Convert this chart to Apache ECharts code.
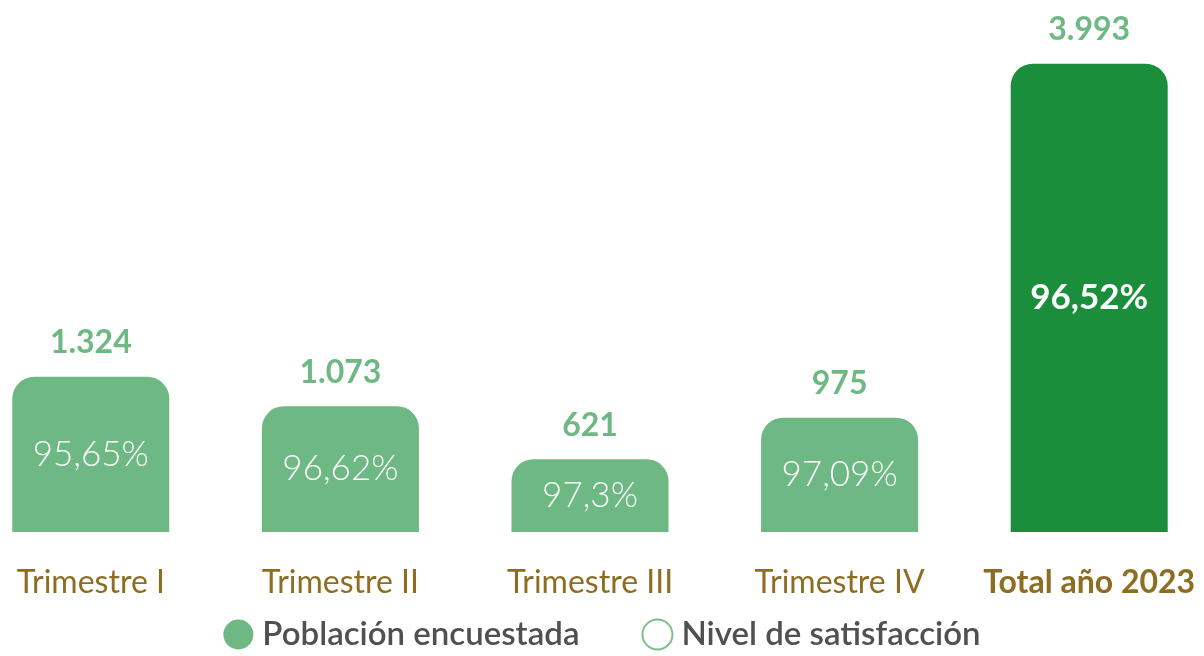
<!DOCTYPE html>
<html>
<head>
<meta charset="utf-8">
<script src="https://cdn.jsdelivr.net/npm/echarts@6/dist/echarts.min.js"></script>
<style>
  html, body { margin: 0; padding: 0; background: #fff; }
  #main { width: 1204px; height: 656px; }
</style>
</head>
<body>
<div id="main"></div>
<script>
// datos
var categorias = ['Trimestre I', 'Trimestre II', 'Trimestre III', 'Trimestre IV', 'Total año 2023'];
var poblacion = [1324, 1073, 621, 975, 3993];
var satisfaccion = ['95,65%', '96,62%', '97,3%', '97,09%', '96,52%'];

var verdeClaro = '#6db883';
var verdeOscuro = '#1a8e3b';
var dorado = '#8d6d22';
var fuente = 'Lato, "Noto Sans", sans-serif';

// separador de miles con punto
function miles(v) {
    return String(v).replace(/\B(?=(\d{3})+(?!\d))/g, '.');
}

var ultimo = categorias.length - 1;

var barras = poblacion.map(function (v, i) {
    var esTotal = i === ultimo;
    return {
        value: v,
        itemStyle: { color: esTotal ? verdeOscuro : verdeClaro },
        label: {
            show: true,
            position: 'inside',
            formatter: satisfaccion[i],
            color: '#fff',
            fontFamily: fuente,
            fontSize: 35,
            fontWeight: esTotal ? 'bold' : 300
        }
    };
});

var myChart = echarts.init(document.getElementById('main'));

var option = {
    backgroundColor: '#fff',
    animation: false,
    legend: {
        bottom: 0,
        left: 'center',
        itemWidth: 30,
        itemHeight: 30,
        itemGap: 62,
        icon: 'circle',
        textStyle: {
            color: '#505050',
            fontFamily: fuente,
            fontSize: 33,
            fontWeight: 600,
            padding: [0, 0, 0, 4]
        },
        data: [
            { name: 'Población encuestada', itemStyle: { color: verdeClaro } },
            { name: 'Nivel de satisfacción', itemStyle: { color: '#fff', borderColor: '#5aae72', borderWidth: 2 } }
        ]
    },
    grid: {
        left: -34,
        width: 1248,
        top: 63,
        bottom: 124,
        outerBoundsMode: 'none',
        containLabel: false
    },
    xAxis: {
        type: 'category',
        data: categorias,
        axisLine: { show: false },
        axisTick: { show: false },
        axisLabel: {
            interval: 0,
            hideOverlap: false,
            margin: 35,
            color: dorado,
            fontFamily: fuente,
            fontSize: 32,
            formatter: function (v) {
                return v === categorias[ultimo] ? '{b|' + v + '}' : v;
            },
            rich: {
                b: { color: dorado, fontFamily: fuente, fontSize: 32, fontWeight: 'bold' }
            }
        }
    },
    yAxis: {
        type: 'value',
        min: 0,
        max: 4000,
        show: false,
        splitLine: { show: false }
    },
    series: [
        {
            name: 'Población encuestada',
            type: 'bar',
            barWidth: 157,
            itemStyle: { color: verdeClaro, borderRadius: [22, 22, 0, 0] },
            data: barras
        },
        {
            // etiquetas de valor sobre las barras
            name: 'valores',
            type: 'bar',
            barWidth: 157,
            barGap: '-100%',
            silent: true,
            itemStyle: { color: 'rgba(0,0,0,0)' },
            label: {
                show: true,
                position: 'top',
                distance: 18,
                color: verdeClaro,
                fontFamily: fuente,
                fontSize: 32,
                fontWeight: 'bold',
                formatter: function (p) { return miles(p.value); }
            },
            data: poblacion
        },
        {
            // lleva la leyenda del nivel de satisfacción (mostrado dentro de las barras)
            name: 'Nivel de satisfacción',
            type: 'scatter',
            symbol: 'circle',
            itemStyle: { color: '#fff', borderColor: '#5aae72', borderWidth: 2 },
            data: []
        }
    ]
};

myChart.setOption(option);
</script>
</body>
</html>
